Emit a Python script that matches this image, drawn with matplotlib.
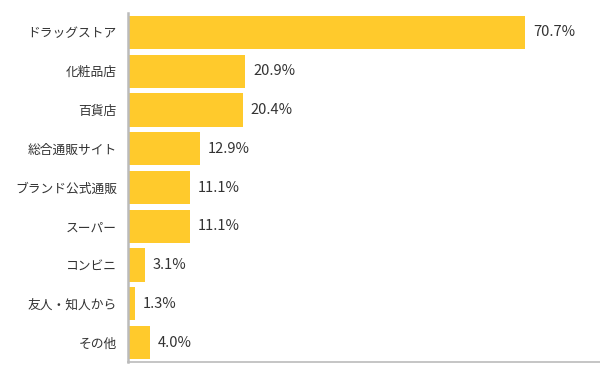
import matplotlib
matplotlib.use("Agg")
import matplotlib.pyplot as plt

plt.rcParams['font.family'] = ['Noto Sans CJK JP', 'DejaVu Sans']

categories = ["ドラッグストア", "化粧品店", "百貨店", "総合通販サイト", "ブランド公式通販",
              "スーパー", "コンビニ", "友人・知人から", "その他"]
values = [70.7, 20.9, 20.4, 12.9, 11.1, 11.1, 3.1, 1.3, 4.0]

fig = plt.figure(figsize=(6, 3.75), dpi=100)
ax = fig.add_axes([128/600, 13/375, 1 - 128/600, (362-13)/375])

y = list(range(len(categories)))
bars = ax.barh(y, values, height=0.855, color="#FFCA2C", edgecolor="none")
ax.set_ylim(len(categories) - 0.5, -0.5)
ax.set_xlim(0, 84)

for yi, v in zip(y, values):
    ax.annotate(f"{v:.1f}%", xy=(v, yi), xytext=(5.5, 0), textcoords="offset points",
                va="center", ha="left", fontsize=10.5, color="#333333")

ax.set_yticks(y)
ax.set_yticklabels(categories, fontsize=9.2, color="#333333")
ax.tick_params(axis="y", length=0, pad=8)
ax.set_xticks([])
for s in ["top", "right"]:
    ax.spines[s].set_visible(False)
ax.spines["left"].set_color("#bbbbbb")
ax.spines["left"].set_linewidth(1.8)
ax.spines["bottom"].set_color("#bbbbbb")
ax.spines["bottom"].set_linewidth(1.2)

fig.savefig("out.png", dpi=100)
